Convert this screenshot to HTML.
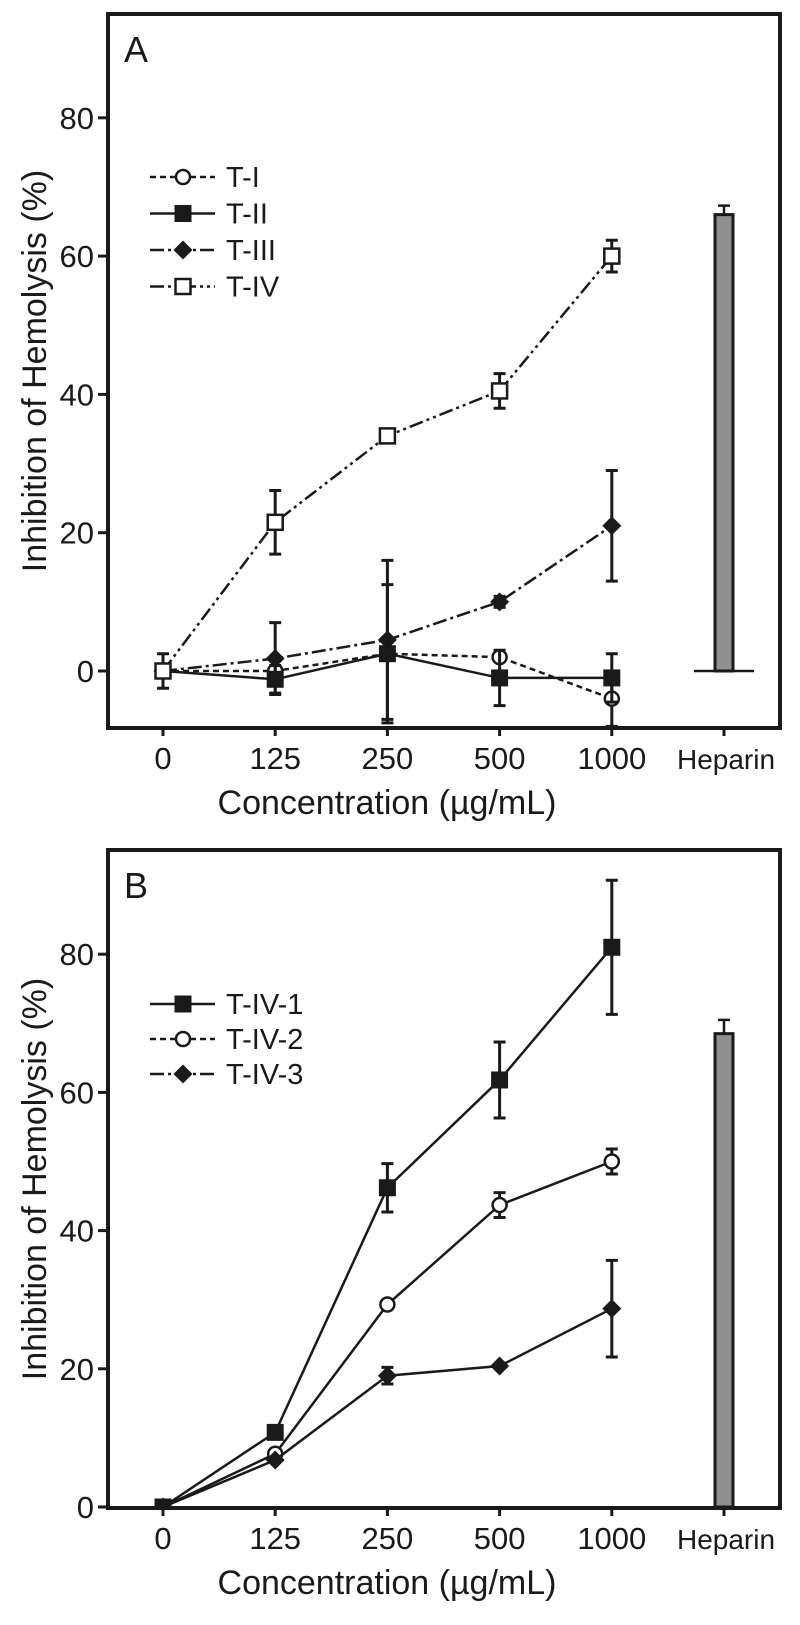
<!DOCTYPE html>
<html><head><meta charset="utf-8">
<style>
html,body{margin:0;padding:0;background:#fff;}
svg{display:block;font-family:"Liberation Sans",Arial,sans-serif;}
</style></head>
<body>
<svg id="chart" width="800" height="1625" viewBox="0 0 800 1625"></svg>
<script>
const categories = ["0","125","250","500","1000","Heparin"];
const yTicksA = [0,20,40,60,80];
const yTicksB = [0,20,40,60,80];
const seriesNamesA = ["T-I","T-II","T-III","T-IV"];
const tIvals = [0,0,2.5,2,-4];
const tIerr = [0,0,0.5,0.5,4];
const tIIvals = [0,-1.2,2.5,-1,-1];
const tIIerr = [0,2,10,4,3.5];
const tIIIvals = [0,1.8,4.5,10,21];
const tIIIerr = [0,5.2,11.5,0.8,8];
const tIVvals = [0,21.5,34,40.5,60];
const tIVerr = [2.5,4.6,1,2.5,2.3];
const heparinA = 66;
const heparinAerr = 1.3;
const seriesNamesB = ["T-IV-1","T-IV-2","T-IV-3"];
const tIV1vals = [0,10.8,46.2,61.8,81];
const tIV1err = [0,0.5,3.5,5.5,9.7];
const tIV2vals = [0,7.7,29.3,43.7,50];
const tIV2err = [0,0,0,1.8,1.8];
const tIV3vals = [0,6.8,19,20.4,28.7];
const tIV3err = [0,0,1.2,0,7];
const heparinB = 68.5;
const heparinBerr = 2;

const NS="http://www.w3.org/2000/svg";
const svg=document.getElementById('chart');
function mk(tag,attrs,parent){const e=document.createElementNS(NS,tag);for(const k in attrs)e.setAttribute(k,attrs[k]);(parent||svg).appendChild(e);return e;}
const xPos=i=>163+i*112.2;

function panel(cfg){
  const g=mk('g',{});
  
  
  const y=v=>cfg.y0-(v)*cfg.k;
  cfg.yTicks.forEach(t=>{
    const l=mk('line',{x1:98,x2:108,y1:y(t),y2:y(t),stroke:'#1a1a1a','stroke-width':3},g);
    
    
    const tx=mk('text',{x:94,y:y(t)+11,'text-anchor':'end','font-size':31,fill:'#1a1a1a'},g);
    tx.textContent=t;
    
    
  });
  categories.forEach((c,i)=>{
    const l=mk('line',{x1:xPos(i),x2:xPos(i),y1:cfg.bottom,y2:cfg.bottom+8,stroke:'#1a1a1a','stroke-width':3},g);
    
    
    const tx=mk('text',{x:xPos(i)+(i==5?2:0),y:cfg.bottom+41,'text-anchor':'middle','font-size':i==5?28:31,fill:'#1a1a1a'},g);
    tx.textContent=c;
    
    
  });
  const xt=mk('text',{x:387,y:cfg.bottom+86,'text-anchor':'middle','font-size':34,fill:'#1a1a1a'},g);
  xt.textContent='Concentration (µg/mL)';
  
  
  const cy=(cfg.top+cfg.bottom)/2;
  const yt=mk('text',{x:0,y:0,'text-anchor':'middle','font-size':34,fill:'#1a1a1a',transform:`translate(46,${cy}) rotate(-90)`},g);
  yt.textContent='Inhibition of Hemolysis (%)';
  
  
  const pl=mk('text',{x:124,y:cfg.top+48,'font-size':36,fill:'#1a1a1a'},g);
  pl.textContent=cfg.label;
  
  
  const hx=xPos(5);
  const hb=mk('rect',{x:hx-9,y:y(cfg.hep),width:18,height:y(0)-y(cfg.hep),fill:'#8f8f8f',stroke:'#1a1a1a','stroke-width':3},g);
  
  
  const he=mk('path',{d:`M${hx},${y(cfg.hep)} V${y(cfg.hep+cfg.hepErr)} M${hx-6},${y(cfg.hep+cfg.hepErr)} H${hx+6}`,stroke:'#1a1a1a','stroke-width':2.5,fill:'none'},g);
  
  
  if(cfg.baseline){
    const bl=mk('line',{x1:hx-30,x2:hx+30,y1:y(0),y2:y(0),stroke:'#1a1a1a','stroke-width':2.5},g);
    
    
  }
  const clip='clip'+cfg.label;
  const cp=mk('clipPath',{id:clip},g);
  mk('rect',{x:108,y:cfg.top,width:672,height:cfg.bottom-cfg.top},cp);
  cfg.series.forEach(s=>{
    const sg=mk('g',{'clip-path':`url(#${clip})`},g);
    
    
    const d=s.vals.map((v,i)=>(i?'L':'M')+xPos(i)+','+y(v)).join(' ');
    const ln=mk('path',{d,fill:'none',stroke:'#1a1a1a','stroke-width':2.5,'stroke-dasharray':cfg.plotDash?s.dash:'none'},sg);
    
    
    s.vals.forEach((v,i)=>{
      const e=s.err[i];
      if(e>0){
        const x=xPos(i);
        const eb=mk('path',{d:`M${x},${y(v-e)} V${y(v+e)} M${x-6},${y(v-e)} H${x+6} M${x-6},${y(v+e)} H${x+6}`,stroke:'#1a1a1a','stroke-width':3,fill:'none'},sg);
        
        
      }
    });
    s.vals.forEach((v,i)=>{
      const m=marker(s.marker,xPos(i),y(v),sg);
      
      
    });
  });
  cfg.series.forEach((s,i)=>{
    const ly=cfg.legY+i*cfg.legStep;
    const lg=mk('g',{},g);
    
    
    mk('line',{x1:150,x2:215,y1:ly,y2:ly,stroke:'#1a1a1a','stroke-width':2.5,'stroke-dasharray':s.dash},lg);
    marker(s.marker,183,ly,lg);
    const t=mk('text',{x:226,y:ly+10,'font-size':29,fill:'#1a1a1a'},lg);
    t.textContent=s.name;
  });
  const fr=mk('rect',{x:108,y:cfg.top,width:672,height:cfg.bottom-cfg.top,fill:'none',stroke:'#1a1a1a','stroke-width':4},g);
  
  
}
function marker(type,x,y,p){
  if(type==='circle')return mk('circle',{cx:x,cy:y,r:7,fill:'#fff',stroke:'#1a1a1a','stroke-width':2.5},p);
  if(type==='square')return mk('rect',{x:x-8.5,y:y-8.5,width:17,height:17,fill:'#1a1a1a'},p);
  if(type==='osquare')return mk('rect',{x:x-7.5,y:y-7.5,width:15,height:15,fill:'#fff',stroke:'#1a1a1a','stroke-width':2.5},p);
  return mk('path',{d:`M${x},${y-9.5} L${x+9.5},${y} L${x},${y+9.5} L${x-9.5},${y} Z`,fill:'#1a1a1a'},p);
}
panel({name:'panel-a',label:'A',top:14,bottom:728,y0:671,k:6.915,yTicks:yTicksA,hep:heparinA,hepErr:heparinAerr,baseline:true,plotDash:true,legY:177,legStep:36.5,
  series:[
   {name:seriesNamesA[0],vals:tIvals,err:tIerr,marker:'circle',dash:'6,4'},
   {name:seriesNamesA[1],vals:tIIvals,err:tIIerr,marker:'square',dash:'none'},
   {name:seriesNamesA[2],vals:tIIIvals,err:tIIIerr,marker:'diamond',dash:'14,4,3,4'},
   {name:seriesNamesA[3],vals:tIVvals,err:tIVerr,marker:'osquare',dash:'14,4,3,4,3,4'}]});
panel({name:'panel-b',label:'B',top:850,bottom:1508,y0:1507,k:6.91,yTicks:yTicksB,hep:heparinB,hepErr:heparinBerr,baseline:false,plotDash:false,legY:1004,legStep:35,
  series:[
   {name:seriesNamesB[0],vals:tIV1vals,err:tIV1err,marker:'square',dash:'none'},
   {name:seriesNamesB[1],vals:tIV2vals,err:tIV2err,marker:'circle',dash:'6,4'},
   {name:seriesNamesB[2],vals:tIV3vals,err:tIV3err,marker:'diamond',dash:'14,4,3,4'}]});
</script>
</body></html>
